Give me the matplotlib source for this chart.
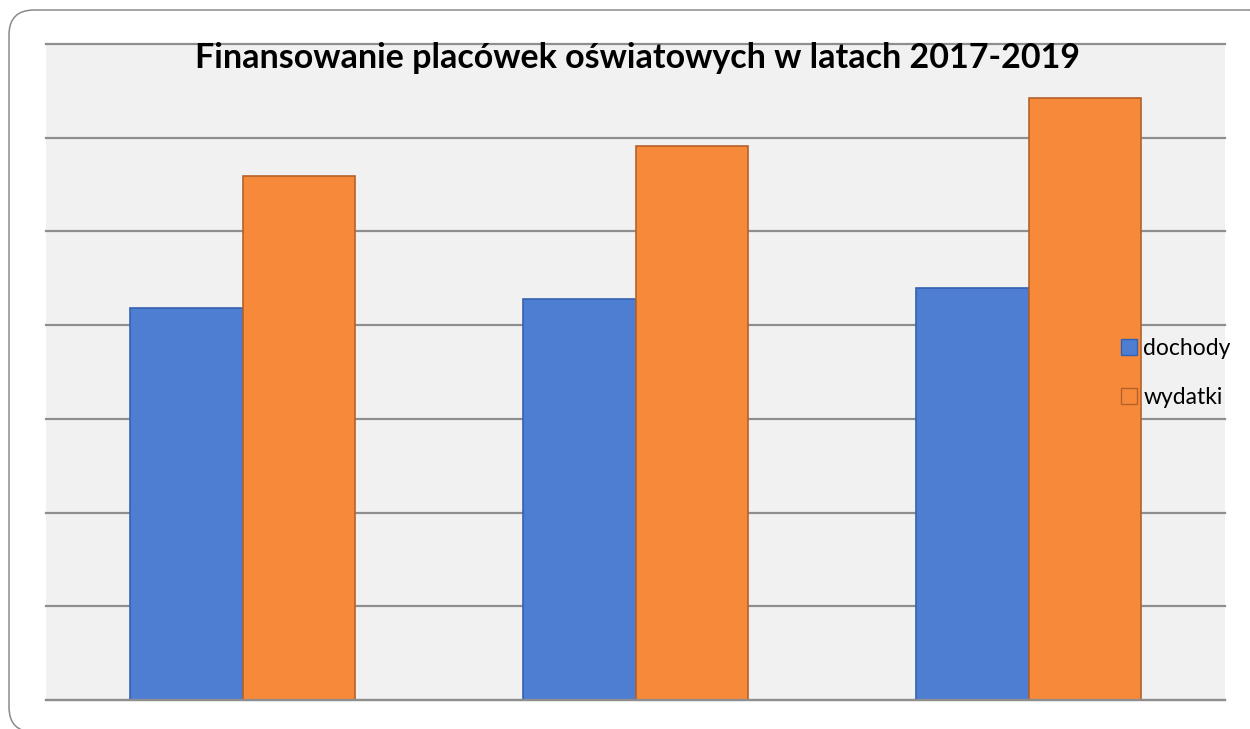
import matplotlib
matplotlib.use("Agg")
import matplotlib.pyplot as plt
import numpy as np
from matplotlib.patches import FancyBboxPatch, Patch
from matplotlib.transforms import IdentityTransform

years = ["2017", "2018", "2019"]
dochody = [4.18, 4.28, 4.40]
wydatki = [5.59, 5.91, 6.42]
series_labels = ["dochody", "wydatki"]
title = "Finansowanie placówek oświatowych w latach 2017-2019"

blue = "#4e7ed2"
blue_edge = "#3462b0"
orange = "#f6893a"
orange_edge = "#b5622a"
grid_col = "#8e8e8e"

fig = plt.figure(figsize=(12.5, 7.29), dpi=100)
fig.patch.set_facecolor("white")

# rounded outer border, in pixels (origin bottom-left)
border = FancyBboxPatch((9, -3), 1266, 722,
                        boxstyle="round,pad=0,rounding_size=25", transform=IdentityTransform(),
                        facecolor="none", edgecolor="#8a8a8a", linewidth=1.1)
fig.patches.append(border)

ax = fig.add_axes([46 / 1250, 29 / 729, 1179 / 1250, 656 / 729])
ax.set_facecolor("#f1f1f1")

x = np.arange(len(years))
w = 0.286
ax.bar(x - w / 2, dochody, w, color=blue, edgecolor=blue_edge, linewidth=1.2, zorder=3)
ax.bar(x + w / 2, wydatki, w, color=orange, edgecolor=orange_edge, linewidth=1.2, zorder=3)

ax.set_xlim(-0.5, 2.5)
ax.set_ylim(0, 7)
ax.set_yticks(range(0, 8))
ax.set_xticks([])
ax.tick_params(axis="y", length=0, labelleft=False)
ax.yaxis.grid(True, color=grid_col, linewidth=1.6, zorder=1)
for gl in ax.get_ygridlines():
    gl.set_clip_on(False)
ax.set_axisbelow(True)
ax.axhline(0, color=grid_col, linewidth=1.6, zorder=4, clip_on=False)
for s in ax.spines.values():
    s.set_visible(False)

handles = [Patch(facecolor=blue, edgecolor=blue_edge, linewidth=1.0),
           Patch(facecolor=orange, edgecolor=orange_edge, linewidth=1.0)]
leg = ax.legend(handles, series_labels, loc="center left",
                bbox_to_anchor=((1121 - 46) / 1179, (700 - 373) / 656),
                frameon=False, borderaxespad=0, borderpad=0,
                handlelength=0.68, handleheight=0.68, handletextpad=0.3,
                labelspacing=1.22, prop={"family": ["Lato", "DejaVu Sans"], "size": 16.5})
leg.set_zorder(5)

fig.text(637 / 1250, (729 - 68) / 729, title, ha="center", va="baseline",
         fontsize=24.5, fontweight="bold", family=["Lato", "DejaVu Sans"], zorder=10)

fig.savefig("out.png", dpi=100, facecolor="white")
